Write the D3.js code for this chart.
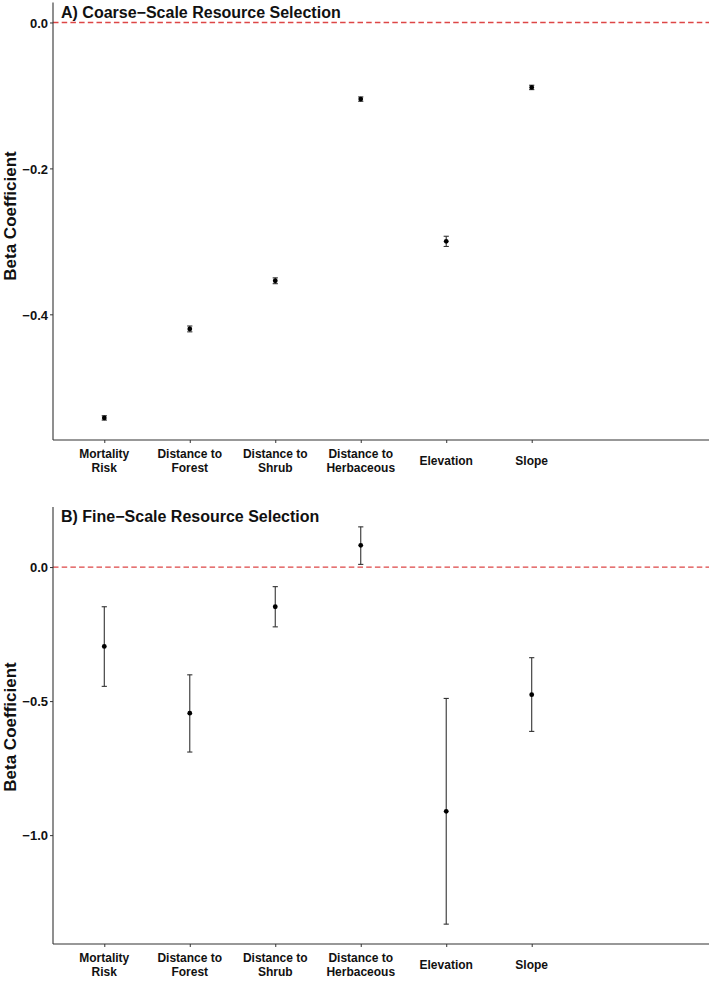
<!DOCTYPE html>
<html>
<head>
<meta charset="utf-8">
<script src="https://cdn.jsdelivr.net/npm/d3@7"></script>
<style>
  body { margin: 0; background: #fff; }
  text { font-family: "Liberation Sans", Arial, sans-serif; font-weight: bold; }
</style>
</head>
<body>
<div id="chart"></div>
<script>
// categories and estimates
var categories = ["Mortality\nRisk", "Distance to\nForest", "Distance to\nShrub",
                  "Distance to\nHerbaceous", "Elevation", "Slope"];

var coarseBeta = [-0.542, -0.420, -0.354, -0.105, -0.300, -0.089];
var coarseLow  = [-0.545, -0.424, -0.358, -0.108, -0.307, -0.092];
var coarseHigh = [-0.539, -0.416, -0.350, -0.102, -0.293, -0.086];
var coarseTicks = [0.0, -0.2, -0.4];

var fineBeta = [-0.296, -0.545, -0.148, 0.081, -0.911, -0.476];
var fineLow  = [-0.445, -0.690, -0.223, 0.010, -1.332, -0.613];
var fineHigh = [-0.148, -0.402, -0.073, 0.150, -0.490, -0.338];
var fineTicks = [0.0, -0.5, -1.0];

var W = 709, H = 982;
var svg = d3.select("#chart").append("svg")
	.attr("width", W)
	.attr("height", H);

var fmt = function(d){ return d3.format(".1f")(d).replace("-", "\u2212"); };

function panel(title, beta, low, high, ticks, top, bottom, labelY){
	var left = 53;
	var ymin = d3.min(low.concat([0])), ymax = d3.max(high.concat([0]));
	var pad = (ymax - ymin)*0.05;
	var y = d3.scaleLinear().domain([ymin - pad, ymax + pad]).range([bottom, top]);
	var x = d3.scalePoint().domain(categories).range([left, 583]).padding(0.6);

	var g = svg.append("g");

	// zero reference line
	g.append("line")
		.attr("x1", left).attr("x2", W)
		.attr("y1", y(0)).attr("y2", y(0))
		.attr("style", "stroke:#dd4646; stroke-width:1.3px; stroke-dasharray:5.5,3.2");

	// y axis
	var yAxis = g.append("g")
		.attr("transform", "translate(" + left + ",0)")
		.call(d3.axisLeft(y).tickValues(ticks).tickFormat(fmt).tickSize(3).tickPadding(2));
	yAxis.select(".domain").remove();
	yAxis.selectAll(".tick line").attr("stroke", "#333");
	yAxis.selectAll(".tick text").attr("fill", "#111").attr("font-size", 13).attr("dy", "0.36em");

	// x axis
	var xAxis = g.append("g")
		.attr("transform", "translate(0," + bottom + ")")
		.call(d3.axisBottom(x).tickSize(3).tickFormat(""));
	xAxis.select(".domain").remove();
	xAxis.selectAll(".tick line").attr("stroke", "#333");

	categories.forEach(function(c){
		var lines = c.split("\n");
		var t = g.append("text")
			.attr("text-anchor", "middle")
			.attr("font-size", 12)
			.attr("fill", "#111");
		var y0 = lines.length == 1 ? bottom + 25 : bottom + 18;
		for (var i = 0; i < lines.length; i++){
			t.append("tspan")
				.attr("x", x(c))
				.attr("y", y0 + i*14)
				.text(lines[i]);
		}
	});

	// axis lines
	g.append("line")
		.attr("x1", left).attr("x2", left)
		.attr("y1", top).attr("y2", bottom)
		.attr("style", "stroke:#333; stroke-width:1.1px");
	g.append("line")
		.attr("x1", left).attr("x2", W)
		.attr("y1", bottom).attr("y2", bottom)
		.attr("style", "stroke:#333; stroke-width:1.1px");

	// error bars and points
	for (var i = 0; i < categories.length; i++){
		var cx = x(categories[i]);
		g.append("line")
			.attr("x1", cx).attr("x2", cx)
			.attr("y1", y(low[i])).attr("y2", y(high[i]))
			.attr("style", "stroke:#333; stroke-width:1.1px");
		[low[i], high[i]].forEach(function(v){
			g.append("line")
				.attr("x1", cx - 2.6).attr("x2", cx + 2.6)
				.attr("y1", y(v)).attr("y2", y(v))
				.attr("style", "stroke:#333; stroke-width:1.1px");
		});
		g.append("circle")
			.attr("cx", cx).attr("cy", y(beta[i]))
			.attr("r", 2.4)
			.attr("fill", "#000");
	}

	// title
	g.append("text")
		.attr("x", 61)
		.attr("y", top + (title.charAt(0) == "A" ? 15.7 : 15))
		.attr("font-size", 16)
		.attr("fill", "#111")
		.text(title);

	// y label
	g.append("text")
		.attr("transform", "translate(15.5," + labelY + ") rotate(-90)")
		.attr("text-anchor", "middle")
		.attr("font-size", 17)
		.attr("fill", "#111")
		.text("Beta Coefficient");
}

panel("A) Coarse\u2212Scale Resource Selection", coarseBeta, coarseLow, coarseHigh, coarseTicks, 2.6, 440, 216);
panel("B) Fine\u2212Scale Resource Selection", fineBeta, fineLow, fineHigh, fineTicks, 507, 944, 727);
</script>
</body>
</html>
